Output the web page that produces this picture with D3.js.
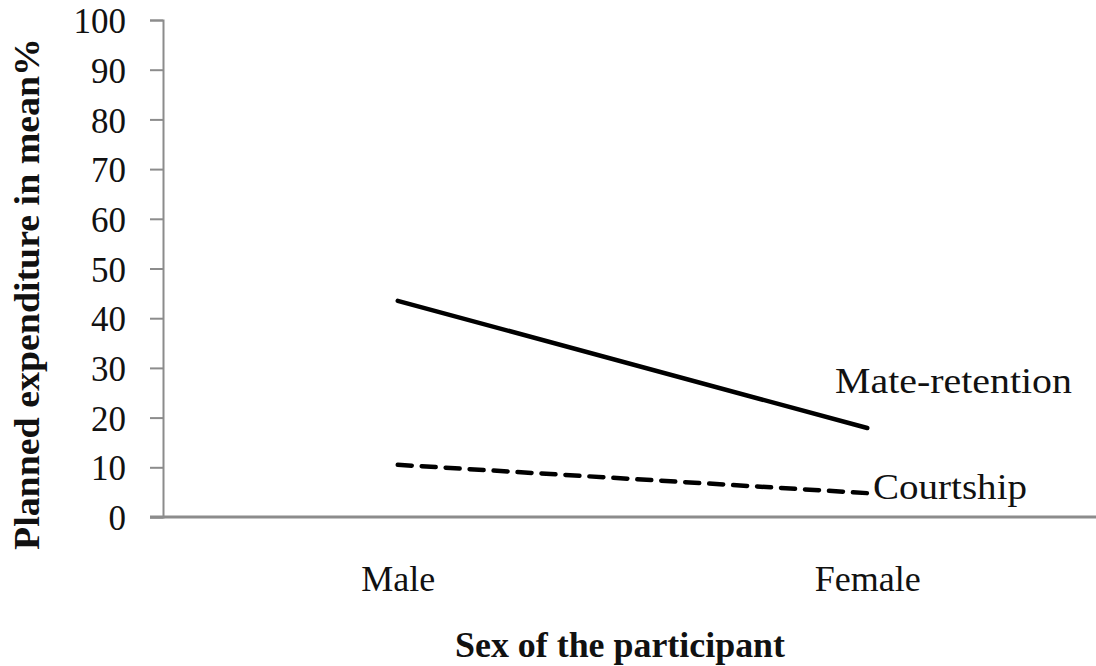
<!DOCTYPE html>
<html><head><meta charset="utf-8">
<script src="https://cdn.jsdelivr.net/npm/d3@7"></script>
<style>html,body{margin:0;padding:0;background:#fff;}</style>
</head><body>
<svg id="chart" width="1096" height="666"></svg>
<script>
const categories = ["Male", "Female"];
const mateRetention = [43.5, 17.9];
const courtship = [10.5, 4.8];
const yTicks = [0, 10, 20, 30, 40, 50, 60, 70, 80, 90, 100];
const seriesNames = ["Mate-retention", "Courtship"];

const svg = d3.select("#chart");
const axisColor = "#8c8c8c";
const FONT = '"Liberation Serif"';

const y = d3.scaleLinear().domain([0, 100]).range([517, 20]);
const x = d3.scalePoint().domain(categories).range([163, 1102]).padding(0.5);

function serif(sel) { sel.style("font-family", FONT); return sel; }

// Y axis
const yAxis = d3.axisLeft(y).tickValues(yTicks).tickSize(13).tickPadding(24).tickFormat(d3.format("d"));
const gy = svg.append("g").attr("transform", "translate(163,0)").call(yAxis);
gy.attr("font-family", null);
gy.select(".domain").attr("stroke", axisColor).attr("stroke-width", 2);
gy.selectAll(".tick line").attr("stroke", axisColor).attr("stroke-width", 2);
serif(gy.selectAll(".tick text")).attr("font-size", 35).attr("fill", "#111").attr("dy", "0.36em");

// X axis
const xAxis = d3.axisBottom(x).tickSize(0).tickPadding(48);
const gx = svg.append("g").attr("transform", "translate(0,517)").call(xAxis);
gx.attr("font-family", null);
gx.select(".domain").attr("d", "M150,0H1096").attr("stroke", axisColor).attr("stroke-width", 3);
serif(gx.selectAll(".tick text")).attr("font-size", 36).attr("fill", "#111");

// Lines
const line = d3.line().x((d, i) => x(categories[i])).y(d => y(d));
svg.append("path").datum(mateRetention).attr("d", line)
  .attr("fill", "none").attr("stroke", "#000").attr("stroke-width", 4.5).attr("stroke-linecap", "round");
svg.append("path").datum(courtship).attr("d", line)
  .attr("fill", "none").attr("stroke", "#000").attr("stroke-width", 4.5)
  .attr("stroke-dasharray", "14,10").attr("stroke-linecap", "round");

// Series labels
serif(svg.append("text")).attr("x", 835).attr("y", y(mateRetention[1]) - 35)
  .attr("font-size", 36).attr("fill", "#111")
  .attr("textLength", 237).attr("lengthAdjust", "spacingAndGlyphs").text(seriesNames[0]);
serif(svg.append("text")).attr("x", 873).attr("y", y(courtship[1]) + 6)
  .attr("font-size", 36).attr("fill", "#111")
  .attr("textLength", 154).attr("lengthAdjust", "spacingAndGlyphs").text(seriesNames[1]);

// Axis titles
serif(svg.append("text")).attr("x", 620).attr("y", 657).attr("text-anchor", "middle")
  .attr("font-size", 36).attr("font-weight", "bold").attr("fill", "#111")
  .attr("textLength", 330).attr("lengthAdjust", "spacingAndGlyphs").text("Sex of the participant");
serif(svg.append("text")).attr("transform", "translate(39,294) rotate(-90)").attr("text-anchor", "middle")
  .attr("font-size", 36).attr("font-weight", "bold").attr("fill", "#111")
  .attr("textLength", 512).attr("lengthAdjust", "spacingAndGlyphs").text("Planned expenditure in mean%");
</script>
</body></html>
